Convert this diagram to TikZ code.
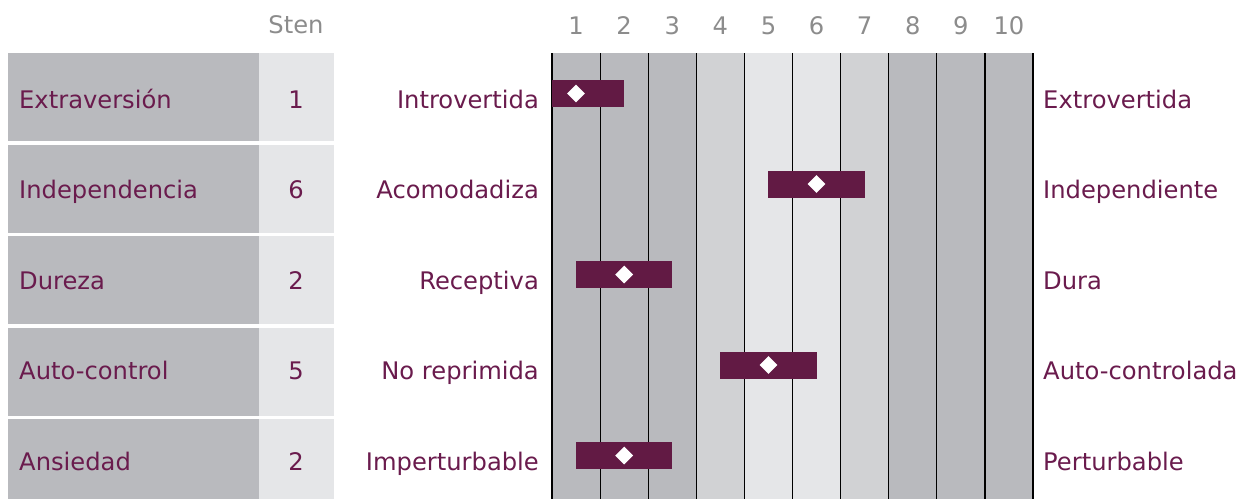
\documentclass[tikz,border=0pt]{standalone}
\usepackage{fontspec}
\setmainfont{DejaVu Sans}
\usetikzlibrary{shapes.geometric}
\definecolor{txt}{HTML}{6A1B4D}
\definecolor{barc}{HTML}{621A44}
\definecolor{hdr}{HTML}{8C8C8C}
\definecolor{dk}{HTML}{B9BABE}
\definecolor{md}{HTML}{D1D2D4}
\definecolor{lt}{HTML}{E5E6E8}
\begin{document}
\begin{tikzpicture}[x=1pt,y=-1pt,
  lbl/.style={font=\fontsize{24.2}{28}\selectfont, text=txt, inner sep=0pt},
  hd/.style={font=\fontsize{24.2}{28}\selectfont, text=hdr, inner sep=0pt, anchor=base},
  barbox/.style={fill=barc, draw=none},
  dia/.style={diamond, fill=white, draw=none, inner sep=0pt, minimum width=18pt, minimum height=18pt}]
\useasboundingbox (0,0) rectangle (1238,499);
\fill[white] (0,0) rectangle (1238,499);
% header
\node[hd] (sten) at (296,33.5) {Sten};
\foreach \k in {1,...,10}{
  \node[hd] (h\k) at ({552+(\k-0.5)*48.1},34.5) {\k};
}
% chart columns
\foreach \k/\c in {1/dk,2/dk,3/dk,4/md,5/lt,6/lt,7/md,8/dk,9/dk,10/dk}{
  \fill[\c] ({552+(\k-1)*48.1},53) rectangle ({552+\k*48.1},499);
}
\foreach \k in {0,...,10}{
  \draw[black, line width=1.2pt] ({552+\k*48.1},53) -- ({552+\k*48.1},499);
}
% rows
\foreach \i/\name/\s/\lo/\hi in {
  1/Extraversión/1/Introvertida/Extrovertida,
  2/Independencia/6/Acomodadiza/Independiente,
  3/Dureza/2/Receptiva/Dura,
  4/Auto-control/5/No reprimida/Auto-controlada,
  5/Ansiedad/2/Imperturbable/Perturbable}{
  \pgfmathsetmacro{\top}{53+(\i-1)*91.5}
  \pgfmathsetmacro{\bot}{min(\top+88,499)}
  \fill[dk] (8,\top) rectangle (259,\bot);
  \fill[lt] (259,\top) rectangle (334,\bot);
  \pgfmathsetmacro{\base}{108.3+(\i-1)*90.5}
  \node[lbl, anchor=base west] (n\i) at (19,\base) {\name};
  \node[lbl, anchor=base] (s\i) at (296,\base) {\s};
  \node[lbl, anchor=base east] (lo\i) at (539,\base) {\lo};
  \node[lbl, anchor=base west] (hi\i) at (1043,\base) {\hi};
  \pgfmathsetmacro{\cx}{552+(\s-0.5)*48.1}
  \pgfmathsetmacro{\bl}{max(552,\cx-48.1)}
  \pgfmathsetmacro{\br}{\cx+48.1}
  \pgfmathsetmacro{\by}{80+(\i-1)*90.5}
  \fill[barc] (\bl,\by) rectangle (\br,\by+27);
  \node[dia] (d\i) at (\cx,\by+13.5) {};
}
\end{tikzpicture}
\end{document}
